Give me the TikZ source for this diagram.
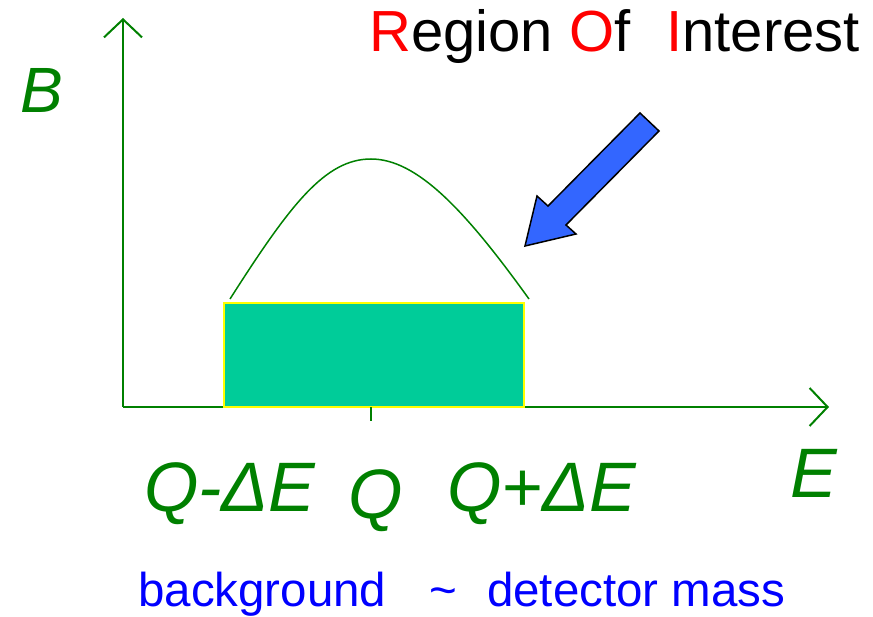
\documentclass[tikz,border=0pt]{standalone}
\usepackage{fontspec}
\setmainfont{Liberation Sans}
\usetikzlibrary{arrows.meta, positioning}
\definecolor{axisgreen}{HTML}{008000}
\definecolor{roifill}{HTML}{00CC99}
\definecolor{roiedge}{HTML}{FFFF00}
\definecolor{pointer}{HTML}{3366FF}
\definecolor{titlered}{HTML}{FF0000}
\definecolor{notblue}{HTML}{0000FF}

\begin{document}
\begin{tikzpicture}[
    x=1pt, y=-1pt,
    axis/.style={
        axisgreen,
        line width=2pt,
        -{Straight Barb[length=18pt, width=38pt, line width=2pt]},
    },
    peak/.style={
        axisgreen,
        line width=1.5pt,
    },
    roibox/.style={
        rectangle,
        minimum width=300pt,
        minimum height=104pt,
        draw=roiedge,
        line width=2pt,
        fill=roifill,
        inner sep=0pt,
    },
    label/.style={
        axisgreen,
        inner sep=0pt,
        anchor=base west,
        font=\fontsize{70}{80}\selectfont\itshape,
    },
]

% Canvas
\useasboundingbox (0,0) rectangle (873,617);

% Axes
\coordinate (origin) at (123,407);
\coordinate (btop) at (123,18);
\coordinate (eend) at (829,407);
\draw[axis] (origin) -- (btop);
\draw[axis] (origin) -- (eend);

% Signal window
\node[roibox] (window) at (374,355) {};
\coordinate (qpos) at (371,407);
\coordinate (qtick) at (371,421);
\draw[peak, line width=2pt] (qpos) -- (qtick);

% Peak above the window
\coordinate (peakl) at (230,299);
\coordinate (peaktop) at (371,159);
\coordinate (peakr) at (529,299);
\draw[peak] (peakl) .. controls (290,205) and (325,159) .. (peaktop)
    .. controls (417,159) and (465,210) .. (peakr);

% Pointer to the region
\draw[fill=pointer, line width=1.5pt, line join=miter]
    (525,246) -- (537,196) -- (548,206) -- (640,113) -- (659,131)
    -- (566,225) -- (576,234) -- cycle;

% Title
\node[inner sep=0pt, anchor=base west, font=\fontsize{58}{66}\selectfont]
    (title) at (369,52)
    {\textcolor{titlered}{R}egion \textcolor{titlered}{O}f\hspace{36pt}\textcolor{titlered}{I}nterest};

% Axis labels
\node[label, font=\fontsize{64}{72}\selectfont\itshape] (blabel) at (20,113) {B};
\node[label] (elabel) at (790,497) {E};

% Energy labels
\node[label] (qminus) at (144,511) {Q-ΔE};
\node[label] (qmid) at (348,518) {Q};
\node[label] (qplus) at (447,511) {Q+ΔE};

% Note
\node[notblue, inner sep=0pt, anchor=base west, font=\fontsize{47.5}{56}\selectfont]
    (note) at (138,606)
    {background\hspace{43pt}\textasciitilde\hspace{30pt}detector mass};

\end{tikzpicture}
\end{document}
